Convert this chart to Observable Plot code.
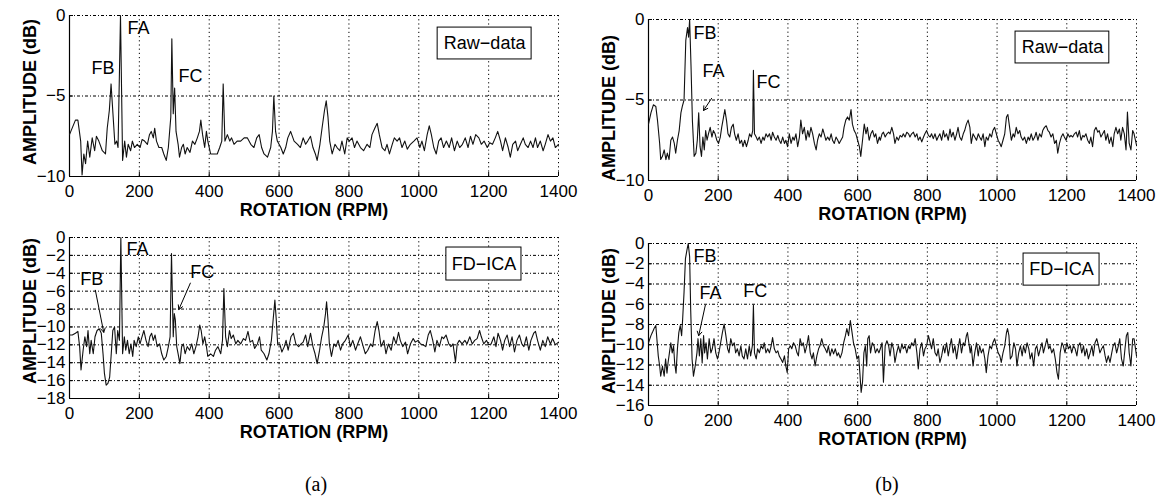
<!DOCTYPE html>
<html>
<head>
<meta charset="utf-8">
<script src="https://cdn.jsdelivr.net/npm/d3@7"></script>
<script src="https://cdn.jsdelivr.net/npm/@observablehq/plot@0.6"></script>
<style>
  html, body { margin: 0; padding: 0; background: #fff; }
  #fig { position: relative; width: 1164px; height: 497px; background: #fff; overflow: hidden; }
  .panel { position: absolute; }
  .cap { position: absolute; font-family: "Liberation Serif", "Times New Roman", serif; font-size: 20px; color: #000; transform: translateX(-50%); }
  .ylab { position: absolute; font-family: "Liberation Sans", Arial, sans-serif; font-weight: bold; font-size: 18px; color: #000; white-space: nowrap; transform: translate(-50%, -50%) rotate(-90deg); }
</style>
</head>
<body>
<div id="fig"></div>
<script>
// ---------- data (RPM, dB) ----------
const xTicks = [0, 200, 400, 600, 800, 1000, 1200, 1400];
const yTicksA = [0, -5, -10];
const yTicksAica = [0, -2, -4, -6, -8, -10, -12, -14, -16, -18];
const yTicksB = [0, -5, -10];
const yTicksBica = [0, -2, -4, -6, -8, -10, -12, -14, -16];

const rawDataA = [[0,-7.4],[17,-6.5],[24,-6.5],[32,-7.8],[36,-9.9],[41,-8.6],[46,-9.2],[52,-7.8],[58,-8.8],[65,-7.6],[72,-8.4],[77,-7.5],[84,-7.8],[94,-8.4],[103,-8.6],[108,-7.0],[114,-5.9],[119,-4.25],[125,-6.3],[130,-8.0],[135,-7.8],[139,-8.2],[146,0],[152,-9.0],[158,-7.8],[163,-8.8],[168,-8.0],[175,-8.4],[180,-7.8],[186,-8.2],[194,-8.0],[202,-8.2],[208,-7.7],[215,-7.8],[223,-8.0],[229,-7.4],[234,-7.2],[240,-7.6],[244,-7.0],[249,-7.8],[256,-8.2],[264,-8.2],[270,-8.6],[277,-9.0],[283,-8.2],[290,-6.3],[293,-1.45],[297,-6.1],[301,-4.5],[305,-7.2],[311,-8.0],[315,-8.8],[321,-8.2],[326,-8.0],[331,-8.6],[337,-8.2],[345,-8.5],[352,-7.8],[359,-8.0],[366,-7.6],[372,-7.2],[376,-6.5],[381,-7.4],[387,-8.2],[392,-7.2],[396,-7.8],[404,-8.6],[416,-8.6],[423,-8.6],[430,-8.2],[436,-7.8],[440,-4.25],[445,-7.8],[452,-7.4],[459,-7.8],[464,-7.6],[471,-8.0],[480,-7.8],[490,-7.8],[500,-7.6],[509,-7.6],[519,-8.0],[528,-8.2],[536,-7.6],[543,-7.4],[550,-8.2],[557,-8.6],[567,-8.8],[576,-8.2],[581,-7.2],[585,-5.0],[590,-7.2],[595,-7.8],[605,-8.2],[612,-8.6],[619,-8.2],[625,-7.6],[633,-7.2],[643,-7.8],[653,-8.0],[661,-8.2],[669,-7.6],[676,-8.0],[682,-7.8],[690,-7.5],[697,-8.2],[704,-8.6],[709,-9.0],[717,-8.0],[723,-7.0],[730,-5.9],[735,-5.3],[740,-6.3],[745,-7.8],[752,-8.6],[760,-8.0],[766,-8.2],[774,-8.4],[780,-7.8],[788,-8.6],[795,-7.6],[801,-7.8],[809,-7.6],[816,-8.2],[823,-7.8],[833,-8.2],[842,-8.4],[852,-8.0],[860,-8.2],[866,-7.4],[874,-7.0],[881,-6.7],[887,-7.4],[895,-8.2],[903,-8.4],[909,-8.0],[916,-8.6],[924,-8.0],[930,-7.6],[938,-7.8],[945,-7.6],[952,-8.2],[960,-7.8],[967,-8.3],[976,-8.0],[986,-7.8],[995,-7.6],[1003,-8.2],[1009,-7.8],[1016,-8.4],[1024,-7.4],[1030,-6.85],[1036,-7.4],[1043,-8.2],[1050,-8.6],[1057,-7.8],[1064,-7.6],[1071,-8.2],[1079,-7.8],[1087,-8.2],[1094,-7.6],[1102,-8.4],[1110,-7.8],[1117,-8.2],[1125,-8.0],[1133,-7.6],[1141,-8.2],[1148,-7.5],[1155,-8.0],[1163,-7.4],[1172,-7.6],[1179,-8.0],[1187,-7.8],[1196,-8.2],[1203,-7.9],[1211,-8.0],[1219,-7.6],[1226,-7.2],[1234,-7.8],[1240,-8.4],[1248,-7.6],[1256,-8.2],[1262,-8.8],[1269,-8.0],[1277,-7.8],[1283,-8.4],[1291,-8.0],[1299,-7.6],[1305,-8.0],[1313,-8.2],[1320,-7.8],[1327,-8.2],[1334,-7.6],[1340,-8.2],[1348,-7.8],[1356,-8.4],[1362,-8.0],[1370,-7.4],[1377,-7.8],[1384,-7.6],[1391,-8.2],[1400,-8.0]];

const icaDataA = [[0,-10.9],[8,-10.9],[17,-10.7],[24,-10.5],[29,-12.2],[33,-14.8],[39,-12.6],[44,-11.1],[49,-12.2],[53,-10.4],[58,-13.0],[62,-11.5],[68,-13.0],[73,-11.1],[79,-10.4],[85,-10.2],[91,-10.7],[96,-13.0],[100,-15.2],[105,-16.5],[110,-16.3],[115,-15.6],[119,-13.3],[124,-10.4],[129,-10.0],[134,-13.0],[138,-10.4],[143,-11.5],[147,0],[152,-13.0],[157,-11.1],[161,-12.6],[166,-11.5],[171,-13.0],[176,-11.9],[181,-13.3],[185,-11.5],[191,-12.2],[197,-11.1],[202,-11.9],[206,-11.3],[213,-10.4],[219,-11.5],[225,-12.2],[230,-11.1],[235,-10.7],[240,-11.5],[245,-10.9],[251,-12.2],[258,-11.9],[264,-13.0],[270,-13.7],[277,-13.3],[283,-12.2],[288,-11.1],[292,-1.8],[297,-11.1],[300,-8.5],[303,-9.2],[307,-12.2],[311,-13.0],[316,-14.1],[321,-12.2],[326,-11.9],[331,-13.0],[337,-12.2],[344,-12.6],[350,-11.9],[356,-13.0],[362,-12.2],[368,-11.1],[373,-9.8],[377,-10.4],[382,-11.9],[387,-11.1],[392,-12.2],[396,-13.3],[404,-13.0],[412,-13.3],[418,-12.6],[425,-12.2],[433,-13.0],[438,-11.5],[442,-5.7],[447,-11.1],[452,-12.2],[458,-10.4],[463,-11.3],[469,-10.9],[476,-11.9],[482,-11.5],[490,-11.9],[498,-11.3],[504,-11.5],[511,-10.5],[517,-11.7],[524,-11.5],[530,-12.4],[538,-11.9],[544,-11.1],[549,-12.6],[557,-13.0],[565,-13.7],[571,-13.0],[578,-11.5],[583,-9.2],[588,-7.0],[592,-9.2],[596,-11.9],[602,-11.9],[608,-12.8],[615,-12.2],[620,-11.5],[626,-12.6],[634,-11.1],[641,-10.7],[648,-11.9],[656,-12.2],[663,-11.9],[669,-11.7],[676,-10.9],[682,-12.2],[690,-10.7],[697,-12.2],[703,-13.0],[709,-14.1],[716,-12.6],[722,-11.1],[728,-10.0],[733,-8.5],[736,-7.2],[740,-9.2],[744,-11.9],[750,-13.3],[757,-11.9],[763,-12.2],[769,-11.5],[776,-12.6],[782,-11.9],[790,-11.5],[798,-10.9],[804,-12.2],[811,-11.5],[819,-12.6],[825,-11.9],[833,-11.1],[841,-12.2],[847,-13.0],[854,-12.6],[862,-11.9],[868,-12.2],[875,-10.4],[881,-9.4],[886,-10.4],[892,-12.2],[900,-11.5],[906,-13.0],[913,-11.9],[921,-12.6],[928,-11.1],[935,-11.9],[942,-10.6],[947,-11.5],[954,-12.2],[962,-11.7],[968,-13.0],[976,-11.9],[984,-11.3],[990,-11.7],[998,-11.5],[1005,-11.9],[1012,-12.0],[1020,-12.2],[1027,-10.9],[1033,-10.4],[1040,-11.5],[1046,-12.8],[1052,-11.5],[1059,-12.2],[1066,-11.1],[1071,-11.3],[1078,-10.9],[1086,-11.9],[1092,-12.2],[1098,-11.9],[1105,-13.9],[1110,-11.9],[1116,-11.5],[1124,-11.9],[1132,-11.5],[1138,-11.9],[1146,-11.1],[1153,-11.9],[1160,-11.5],[1167,-11.3],[1174,-10.4],[1179,-11.1],[1186,-11.9],[1194,-11.5],[1200,-12.0],[1207,-11.9],[1215,-11.1],[1221,-12.2],[1227,-10.7],[1234,-11.5],[1240,-12.6],[1246,-11.5],[1253,-10.9],[1260,-12.2],[1267,-11.1],[1274,-12.8],[1281,-11.5],[1288,-10.9],[1295,-11.9],[1301,-12.2],[1308,-11.1],[1315,-12.6],[1321,-11.5],[1329,-10.7],[1334,-10.5],[1340,-11.5],[1348,-12.6],[1355,-11.5],[1362,-12.2],[1369,-11.1],[1377,-11.9],[1383,-11.3],[1391,-12.0],[1400,-11.7]];

const rawDataB = [[0,-6.5],[7,-5.8],[14,-5.3],[21,-5.4],[26,-6.3],[32,-7.7],[35,-8.7],[40,-8.5],[45,-8.1],[50,-8.7],[54,-8.3],[59,-8.7],[64,-7.5],[69,-7.3],[74,-7.7],[78,-8.3],[83,-7.5],[88,-6.9],[93,-5.8],[97,-5.4],[102,-5.0],[107,-1.3],[112,-0.5],[115,-1.1],[118,0],[122,-2.9],[126,-6.3],[131,-8.5],[136,-8.3],[140,-7.5],[144,-5.8],[148,-7.9],[152,-8.5],[156,-7.3],[160,-8.1],[164,-6.9],[168,-7.5],[172,-7.1],[177,-6.7],[182,-7.3],[186,-6.9],[191,-7.1],[196,-7.5],[201,-7.7],[206,-7.3],[210,-6.7],[215,-6.1],[219,-5.6],[224,-6.3],[228,-7.1],[233,-7.3],[238,-6.7],[243,-6.5],[247,-7.1],[252,-7.5],[257,-7.1],[262,-7.7],[267,-7.5],[271,-7.9],[276,-7.5],[281,-7.9],[286,-7.5],[290,-7.1],[295,-7.3],[299,-6.9],[301,-3.15],[304,-7.1],[309,-7.3],[313,-7.5],[318,-7.3],[323,-7.7],[328,-7.3],[332,-7.5],[337,-7.1],[342,-7.3],[347,-7.1],[352,-7.5],[356,-7.0],[361,-7.3],[366,-7.5],[371,-7.2],[375,-7.5],[380,-7.7],[385,-7.3],[390,-7.7],[394,-7.5],[399,-7.9],[404,-7.1],[409,-7.7],[414,-7.3],[418,-7.5],[423,-7.1],[428,-7.9],[433,-7.3],[437,-6.25],[442,-7.1],[447,-6.7],[452,-7.5],[457,-6.9],[461,-7.3],[466,-6.7],[471,-7.1],[476,-7.7],[481,-8.1],[485,-7.5],[490,-7.1],[495,-7.3],[500,-6.8],[504,-7.1],[509,-7.5],[514,-7.3],[519,-7.5],[524,-7.1],[528,-7.5],[533,-7.7],[538,-7.3],[543,-7.5],[547,-7.7],[552,-7.5],[557,-7.3],[561,-6.7],[566,-6.25],[571,-6.05],[576,-6.25],[581,-5.6],[585,-6.5],[590,-6.9],[595,-7.1],[600,-7.5],[605,-7.9],[609,-8.5],[614,-7.5],[619,-6.5],[624,-7.1],[628,-6.7],[633,-7.5],[638,-7.1],[643,-6.9],[648,-7.3],[652,-7.1],[657,-7.7],[662,-7.3],[665,-7.5],[670,-7.1],[674,-7.0],[679,-7.3],[684,-7.1],[689,-7.0],[693,-7.1],[698,-6.7],[703,-7.1],[707,-7.7],[712,-7.3],[717,-7.5],[722,-7.2],[727,-7.3],[731,-7.1],[736,-7.3],[741,-7.0],[746,-7.1],[750,-7.3],[755,-7.1],[760,-7.0],[765,-7.3],[770,-7.1],[774,-7.5],[779,-7.3],[784,-7.6],[789,-7.3],[793,-7.1],[798,-6.9],[803,-7.2],[808,-7.3],[812,-7.1],[817,-7.4],[822,-7.1],[827,-7.5],[831,-7.3],[836,-7.1],[841,-7.5],[846,-6.9],[850,-7.3],[855,-7.1],[860,-7.5],[865,-6.8],[869,-7.3],[874,-7.0],[879,-7.5],[884,-7.1],[888,-6.7],[893,-7.3],[898,-7.5],[903,-7.1],[907,-6.9],[912,-6.5],[917,-6.25],[922,-6.7],[926,-7.7],[931,-7.1],[936,-7.3],[941,-7.5],[946,-7.1],[950,-7.3],[955,-7.5],[960,-7.1],[965,-7.9],[969,-7.3],[974,-7.5],[979,-7.1],[984,-7.3],[988,-6.9],[993,-6.7],[998,-7.1],[1003,-7.5],[1008,-7.7],[1012,-7.9],[1017,-7.5],[1022,-7.1],[1027,-6.05],[1031,-5.9],[1036,-6.7],[1041,-7.5],[1046,-7.1],[1050,-7.3],[1055,-6.7],[1060,-7.1],[1065,-6.9],[1069,-7.3],[1074,-7.5],[1079,-7.3],[1084,-7.7],[1089,-7.3],[1093,-7.5],[1098,-7.1],[1103,-7.5],[1108,-7.3],[1112,-7.0],[1117,-7.5],[1122,-7.1],[1127,-7.3],[1131,-6.9],[1136,-6.7],[1141,-6.6],[1146,-6.9],[1150,-7.0],[1155,-7.3],[1160,-7.1],[1165,-7.7],[1170,-7.5],[1174,-8.3],[1179,-7.7],[1184,-7.3],[1189,-7.1],[1193,-7.3],[1198,-7.5],[1203,-7.1],[1208,-7.3],[1212,-7.2],[1217,-7.3],[1222,-7.1],[1227,-7.0],[1231,-7.3],[1236,-6.9],[1241,-7.5],[1246,-7.2],[1250,-7.3],[1255,-7.1],[1260,-7.5],[1265,-7.7],[1269,-7.3],[1274,-7.9],[1279,-6.9],[1284,-6.7],[1289,-7.0],[1293,-6.9],[1298,-7.3],[1303,-7.1],[1308,-6.9],[1312,-7.5],[1317,-7.1],[1322,-7.7],[1327,-7.3],[1332,-7.9],[1336,-7.1],[1341,-6.7],[1346,-7.1],[1351,-6.8],[1355,-7.5],[1360,-6.7],[1365,-7.1],[1370,-8.1],[1374,-5.75],[1379,-7.7],[1384,-8.1],[1389,-6.9],[1393,-7.1],[1400,-7.8]];

const icaDataB = [[0,-9.8],[7,-9.1],[11,-8.8],[16,-8.4],[21,-8.1],[24,-9.4],[28,-11.1],[32,-12.1],[35,-13.1],[40,-12.1],[45,-13.1],[49,-11.4],[53,-12.8],[56,-11.8],[60,-10.8],[64,-9.8],[68,-10.8],[72,-10.1],[75,-11.8],[79,-12.8],[83,-10.4],[87,-8.8],[91,-8.1],[95,-9.1],[98,-7.45],[102,-4.8],[106,-1.5],[110,-0.7],[114,0],[118,-1.3],[121,-6.5],[125,-11.4],[129,-13.1],[134,-12.1],[139,-10.8],[142,-9.4],[146,-11.1],[150,-9.4],[154,-11.8],[158,-9.1],[161,-10.8],[165,-9.8],[169,-11.4],[174,-9.4],[179,-10.8],[183,-10.4],[188,-9.4],[193,-10.8],[198,-11.4],[202,-10.8],[207,-9.8],[212,-8.8],[217,-7.95],[222,-9.1],[227,-10.4],[231,-10.8],[236,-9.4],[241,-10.1],[246,-9.8],[250,-10.8],[255,-10.4],[260,-11.1],[265,-10.1],[269,-11.1],[274,-11.4],[279,-10.4],[284,-11.4],[289,-10.1],[293,-11.1],[298,-10.1],[301,-6.1],[304,-10.8],[309,-11.4],[313,-10.4],[318,-10.8],[323,-10.1],[328,-10.4],[332,-9.8],[337,-10.8],[342,-10.4],[347,-10.8],[352,-10.1],[356,-9.3],[361,-10.4],[366,-10.8],[371,-10.6],[375,-11.1],[380,-11.4],[385,-11.75],[390,-11.1],[394,-12.1],[398,-12.75],[402,-10.4],[407,-10.1],[411,-10.4],[416,-9.8],[421,-10.1],[426,-10.8],[430,-11.1],[435,-9.4],[440,-10.1],[444,-9.8],[449,-10.8],[454,-10.1],[459,-9.1],[464,-10.8],[469,-11.4],[473,-10.8],[478,-12.1],[483,-11.1],[488,-10.4],[492,-10.1],[497,-9.4],[502,-10.1],[507,-10.4],[512,-10.8],[516,-10.1],[521,-11.1],[526,-10.4],[531,-10.9],[536,-10.4],[541,-11.1],[545,-10.8],[550,-11.3],[555,-10.8],[560,-9.8],[565,-9.1],[569,-8.4],[574,-9.1],[579,-7.6],[584,-8.8],[588,-9.8],[593,-10.4],[598,-11.4],[603,-11.1],[607,-13.1],[610,-14.7],[614,-13.7],[618,-10.8],[622,-10.1],[626,-12.1],[629,-9.4],[633,-9.1],[637,-10.8],[642,-9.8],[647,-10.1],[651,-10.8],[656,-10.4],[661,-10.8],[665,-10.4],[670,-9.8],[674,-13.7],[679,-10.1],[684,-9.6],[689,-10.1],[693,-11.1],[698,-9.8],[703,-10.4],[707,-11.75],[712,-10.8],[717,-10.1],[722,-10.8],[727,-9.9],[731,-10.4],[736,-10.1],[741,-10.8],[746,-10.1],[750,-10.4],[755,-9.8],[760,-10.1],[765,-9.4],[770,-10.8],[774,-12.4],[779,-10.4],[784,-9.8],[789,-11.1],[793,-10.4],[798,-10.1],[803,-9.1],[808,-9.8],[812,-10.4],[817,-9.4],[822,-10.8],[827,-11.1],[831,-10.4],[836,-11.75],[841,-11.1],[846,-10.1],[850,-10.8],[855,-9.8],[860,-11.1],[865,-10.1],[869,-9.4],[874,-10.8],[879,-10.1],[884,-11.4],[888,-10.4],[893,-9.4],[898,-10.8],[903,-9.8],[907,-10.1],[912,-9.1],[915,-8.8],[919,-9.8],[923,-10.8],[926,-10.1],[931,-12.1],[936,-10.8],[941,-9.8],[946,-11.1],[950,-10.1],[955,-10.8],[960,-10.4],[965,-11.4],[969,-12.75],[974,-11.1],[979,-10.1],[984,-10.4],[988,-9.8],[993,-9.4],[998,-10.1],[1003,-10.8],[1008,-11.1],[1012,-11.75],[1017,-10.8],[1022,-10.1],[1027,-8.8],[1030,-8.4],[1034,-9.1],[1038,-11.4],[1043,-11.1],[1048,-9.8],[1053,-10.4],[1057,-12.1],[1062,-10.8],[1067,-10.1],[1072,-11.1],[1076,-10.1],[1081,-10.8],[1086,-9.8],[1091,-10.4],[1095,-11.4],[1100,-10.8],[1105,-12.1],[1110,-10.4],[1114,-10.1],[1119,-11.1],[1124,-10.4],[1129,-9.8],[1133,-10.8],[1138,-10.1],[1143,-9.4],[1148,-10.4],[1152,-10.1],[1157,-10.8],[1162,-10.4],[1167,-11.4],[1172,-12.75],[1176,-13.4],[1181,-10.8],[1186,-9.8],[1190,-10.1],[1195,-10.8],[1200,-9.8],[1205,-10.4],[1210,-10.1],[1214,-10.8],[1219,-10.1],[1224,-10.4],[1229,-11.1],[1233,-10.1],[1238,-9.8],[1243,-10.8],[1248,-10.1],[1252,-11.1],[1257,-10.4],[1262,-11.4],[1267,-10.8],[1272,-10.1],[1276,-11.1],[1281,-9.8],[1286,-9.4],[1291,-10.1],[1295,-10.8],[1300,-10.4],[1305,-10.1],[1310,-11.1],[1314,-11.75],[1319,-11.1],[1324,-11.75],[1329,-10.8],[1333,-10.1],[1338,-9.8],[1343,-10.8],[1348,-10.1],[1352,-9.4],[1357,-11.4],[1362,-12.1],[1367,-10.4],[1371,-9.1],[1375,-8.8],[1379,-10.8],[1384,-12.1],[1389,-9.4],[1393,-9.4],[1400,-11.1]];

// peak labels: [text, x (RPM), y (dB)]
const labelsA = [["FA", 166, -0.8], ["FB", 63, -3.3], ["FC", 312, -3.8]];
const labelsAica = [["FA", 163, -1.35], ["FB", 31, -4.7], ["FC", 346, -3.9]];
const labelsB = [["FB", 129, -0.84], ["FA", 155, -3.2], ["FC", 310, -3.9]];
const labelsBica = [["FB", 129, -1.3], ["FA", 146, -4.9], ["FC", 272, -4.75]];
// arrows: [x1, y1, x2, y2]
const arrowsA = [];
const arrowsAica = [[74, -5.9, 98, -10.6], [346, -5.1, 313, -8.05]];
const arrowsB = [[181, -4.9, 158, -5.65]];
const arrowsBica = [[163, -6.1, 144, -9.1]];
// legend boxes: [text, x1, x2, y1, y2]
const legendA = [["Raw\u2212data", 1054, 1323, -0.75, -2.73]];
const legendAica = [["FD\u2212ICA", 1079, 1294, -1.12, -4.81]];
const legendB = [["Raw\u2212data", 1053, 1322, -0.75, -2.73]];
const legendBica = [["FD\u2212ICA", 1076, 1294, -0.99, -4.16]];

const xLabel = "ROTATION (RPM)";
const yLabel = "AMPLITUDE (dB)";

// ---------- drawing ----------
const fmt = d3.format("d");
const fig = document.getElementById("fig");

function panel({data, ymin, yTicks, labels, arrows, legend, left, top, marginRight, marginBottom, yLabelDy}) {
  const W = 570, H = 220, mL = 69, mT = 15;
  const fw = W - mL - marginRight, fh = H - mT - marginBottom;
  const chart = Plot.plot({
    width: W, height: H,
    marginLeft: mL, marginRight, marginTop: mT, marginBottom,
    x: {domain: [0, 1400]},
    y: {domain: [ymin, 0]},
    style: {fontFamily: "'Liberation Sans', Arial, sans-serif", fontSize: "17px", color: "#000", background: "transparent", overflow: "visible"},
    marks: [
      Plot.gridX(xTicks.filter(d => d !== 0), {stroke: "#000", strokeOpacity: 1, strokeWidth: 1, strokeDasharray: "1.2,3"}),
      Plot.gridY(yTicks.filter(d => d !== ymin), {stroke: "#000", strokeOpacity: 1, strokeWidth: 1, strokeDasharray: "3,2,1,2"}),
      Plot.tickX(xTicks, {x: d => d, insetTop: fh - 4, stroke: "#000"}),
      Plot.tickY(yTicks, {y: d => d, insetRight: fw - 4, stroke: "#000"}),
      Plot.ruleX([0], {stroke: "#000", strokeWidth: 1.2}),
      Plot.ruleY([ymin], {stroke: "#000", strokeWidth: 1.2}),
      Plot.line(data, {x: d => d[0], y: d => d[1], stroke: "#111", strokeWidth: 1.1}),
      Plot.axisX({ticks: xTicks, tickSize: 0, tickPadding: 8, tickFormat: fmt, label: null}),
      Plot.axisY({ticks: yTicks, tickSize: 0, tickPadding: 4, tickFormat: fmt, label: null}),
      Plot.text([xLabel], {frameAnchor: "bottom", lineAnchor: "middle", dy: 34, fontWeight: "bold", fontSize: 18, text: d => d}),
      Plot.rect(legend, {x1: d => d[1], x2: d => d[2], y1: d => d[3], y2: d => d[4], fill: "#fff", stroke: "#000", strokeWidth: 1}),
      Plot.text(legend, {x: d => (d[1] + d[2]) / 2, y: d => (d[3] + d[4]) / 2, text: d => d[0], fontSize: 18}),
      Plot.text(labels, {x: d => d[1], y: d => d[2], text: d => d[0], textAnchor: "start", fontSize: 18}),
      Plot.arrow(arrows, {x1: d => d[0], y1: d => d[1], x2: d => d[2], y2: d => d[3], stroke: "#000", strokeWidth: 1, headLength: 7})
    ]
  });
  chart.classList.add("panel");
  chart.style.left = left + "px";
  chart.style.top = top + "px";
  chart.style.position = "absolute";
  fig.appendChild(chart);
  // rotated y-axis title, centred on the frame
  const yl = document.createElement("div");
  yl.className = "ylab";
  yl.textContent = yLabel;
  yl.style.left = (left + mL - 39) + "px";
  yl.style.top = (top + mT + fh / 2 + yLabelDy) + "px";
  fig.appendChild(yl);
}

panel({data: rawDataA, ymin: -10, yTicks: yTicksA, labels: labelsA, arrows: arrowsA, legend: legendA, left: 0, top: 0, marginRight: 12, marginBottom: 44, yLabelDy: -4});
panel({data: icaDataA, ymin: -18, yTicks: yTicksAica, labels: labelsAica, arrows: arrowsAica, legend: legendAica, left: 0, top: 222, marginRight: 12, marginBottom: 44, yLabelDy: -7});
panel({data: rawDataB, ymin: -10, yTicks: yTicksB, labels: labelsB, arrows: arrowsB, legend: legendB, left: 579, top: 4, marginRight: 13, marginBottom: 44, yLabelDy: 8});
panel({data: icaDataB, ymin: -16, yTicks: yTicksBica, labels: labelsBica, arrows: arrowsBica, legend: legendBica, left: 579, top: 228, marginRight: 13, marginBottom: 43, yLabelDy: -3});

const capA = document.createElement("div");
capA.className = "cap"; capA.textContent = "(a)";
capA.style.left = "316px"; capA.style.top = "473px";
fig.appendChild(capA);
const capB = document.createElement("div");
capB.className = "cap"; capB.textContent = "(b)";
capB.style.left = "887px"; capB.style.top = "473px";
fig.appendChild(capB);
</script>
</body>
</html>
